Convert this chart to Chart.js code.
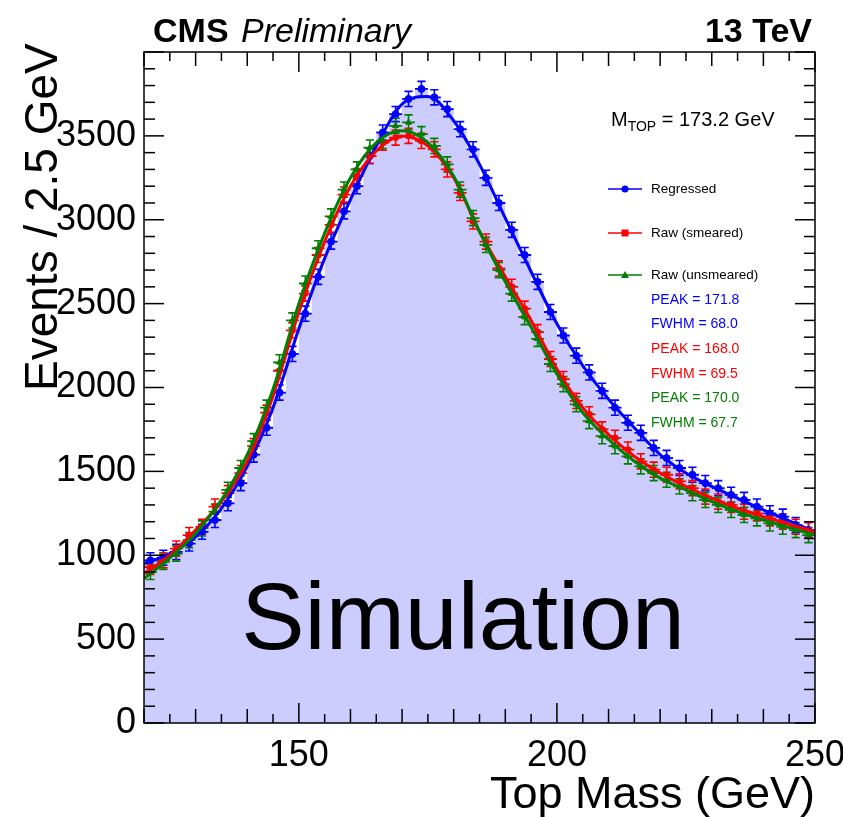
<!DOCTYPE html>
<html>
<head>
<meta charset="utf-8">
<script src="https://cdn.jsdelivr.net/npm/chart.js@4.4.0/dist/chart.umd.min.js"></script>
<style>
  html, body { margin: 0; padding: 0; background: #fff; }
  canvas { display: block; }
</style>
</head>
<body>
<canvas id="massChart" width="843" height="817"></canvas>
<script>
// 2.5 GeV bins between 120 and 250 GeV
const binCenters = [
  121.25, 123.75, 126.25, 128.75, 131.25, 133.75, 136.25, 138.75, 141.25, 143.75,
  146.25, 148.75, 151.25, 153.75, 156.25, 158.75, 161.25, 163.75, 166.25, 168.75,
  171.25, 173.75, 176.25, 178.75, 181.25, 183.75, 186.25, 188.75, 191.25, 193.75,
  196.25, 198.75, 201.25, 203.75, 206.25, 208.75, 211.25, 213.75, 216.25, 218.75,
  221.25, 223.75, 226.25, 228.75, 231.25, 233.75, 236.25, 238.75, 241.25, 243.75,
  246.25, 248.75
];

const regressed = [
  970, 985, 1020, 1070, 1140, 1210, 1310, 1430, 1600, 1760,
  1970, 2200, 2440, 2660, 2870, 3050, 3200, 3380, 3520, 3630,
  3720, 3780, 3730, 3660, 3540, 3420, 3250, 3100, 2940, 2790,
  2630, 2450, 2310, 2190, 2090, 1980, 1880, 1790, 1730, 1640,
  1580, 1520, 1480, 1430, 1400, 1360, 1330, 1290, 1250, 1230,
  1180, 1150
];

const rawSmeared = [
  930, 970, 1040, 1120, 1170, 1290, 1370, 1490, 1650, 1850,
  2100, 2340, 2560, 2790, 2970, 3150, 3260, 3380, 3460, 3490,
  3500, 3470, 3420, 3300, 3160, 2990, 2870, 2710, 2600, 2470,
  2330, 2170, 2050, 1920, 1840, 1750, 1700, 1630, 1560, 1510,
  1480, 1440, 1400, 1350, 1320, 1300, 1260, 1250, 1220, 1200,
  1170, 1150
];

const rawUnsmeared = [
  900, 960, 1010, 1090, 1160, 1260, 1390, 1520, 1680, 1880,
  2150, 2400, 2620, 2830, 3020, 3180, 3300, 3430, 3470, 3560,
  3580, 3510, 3440, 3330, 3180, 3010, 2850, 2700, 2560, 2420,
  2290, 2140, 2020, 1900, 1800, 1710, 1650, 1590, 1530, 1490,
  1450, 1410, 1370, 1330, 1300, 1270, 1240, 1220, 1190, 1170,
  1150, 1120
];

// fitted curves, sampled every 5 GeV
const fitMass = [
  120, 125, 130, 135, 140, 145, 150, 155, 160, 165, 170, 175, 180, 185,
  190, 195, 200, 205, 210, 215, 220, 225, 230, 235, 240, 245, 250
];
const fitRegressed = [
  950, 1010, 1110, 1280, 1530, 1880, 2350, 2770, 3120, 3440, 3690, 3735, 3590, 3330,
  3010, 2690, 2380, 2130, 1930, 1760, 1600, 1490, 1410, 1340, 1270, 1205, 1140
];
const fitSmeared = [
  890, 1000, 1150, 1320, 1560, 1950, 2450, 2870, 3200, 3410, 3500, 3440, 3250, 2930,
  2660, 2400, 2110, 1880, 1720, 1590, 1490, 1410, 1340, 1280, 1230, 1185, 1140
];
const fitUnsmeared = [
  860, 985, 1130, 1330, 1600, 1990, 2500, 2920, 3250, 3460, 3530, 3460, 3260, 2930,
  2630, 2360, 2080, 1850, 1690, 1560, 1460, 1390, 1320, 1260, 1210, 1165, 1120
];

const seriesNames = ['Regressed', 'Raw (smeared)', 'Raw (unsmeared)'];
const peakValues = [171.8, 168.0, 170.0];
const fwhmValues = [68.0, 69.5, 67.7];
const topMass = 173.2;

const BIN_W = 2.5;
const ERR = 45;
const COLORS = ['#0000ff', '#ff0000', '#007f00'];
const MARKERS = ['circle', 'rect', 'triangle'];
const FONT = "'Liberation Sans', Arial, Helvetica, sans-serif";

Chart.defaults.font.family = FONT;
Chart.defaults.color = '#000';

function stepOutline(vals) {
  const pts = [];
  vals.forEach((v, i) => {
    pts.push({ x: binCenters[i] - BIN_W / 2, y: v }, { x: binCenters[i] + BIN_W / 2, y: v });
  });
  return pts;
}

// horizontal bin-width bars, no vertical joins (ROOT E1 look)
function binBars(vals) {
  const pts = [];
  vals.forEach((v, i) => {
    const c = binCenters[i];
    pts.push({ x: c - BIN_W / 2, y: v }, { x: c + BIN_W / 2, y: v }, { x: c + BIN_W / 2, y: null });
  });
  return pts;
}

function errorBars(vals) {
  const pts = [];
  vals.forEach((v, i) => {
    const c = binCenters[i];
    pts.push({ x: c, y: v - ERR }, { x: c, y: v + ERR }, { x: c, y: null });
    pts.push({ x: c - 0.8, y: v + ERR }, { x: c + 0.8, y: v + ERR }, { x: c + 0.8, y: null });
    pts.push({ x: c - 0.8, y: v - ERR }, { x: c + 0.8, y: v - ERR }, { x: c + 0.8, y: null });
  });
  return pts;
}

const histVals = [regressed, rawSmeared, rawUnsmeared];
const fitVals = [fitRegressed, fitSmeared, fitUnsmeared];

const datasets = [{
  label: 'fill',
  data: stepOutline(regressed),
  fill: 'origin',
  backgroundColor: '#ccccff',
  borderWidth: 0,
  borderColor: 'rgba(0,0,0,0)',
  pointRadius: 0,
  order: 100
}];

histVals.forEach((vals, k) => {
  datasets.push({
    label: seriesNames[k] + ' bins',
    data: binBars(vals),
    borderColor: COLORS[k],
    borderWidth: 1.8,
    pointRadius: 0,
    fill: false,
    spanGaps: false,
    order: 30 - k
  });
  datasets.push({
    label: seriesNames[k] + ' errors',
    data: errorBars(vals),
    borderColor: COLORS[k],
    borderWidth: 1.6,
    pointRadius: 0,
    fill: false,
    spanGaps: false,
    order: 30 - k
  });
  datasets.push({
    label: seriesNames[k],
    data: vals.map((v, i) => ({ x: binCenters[i], y: v })),
    showLine: false,
    pointStyle: MARKERS[k],
    pointRadius: 3.5,
    pointBackgroundColor: COLORS[k],
    pointBorderColor: COLORS[k],
    pointBorderWidth: 1,
    order: 20 - k
  });
});

fitVals.forEach((vals, k) => {
  datasets.push({
    label: seriesNames[k] + ' fit',
    data: vals.map((v, i) => ({ x: fitMass[i], y: v })),
    borderColor: COLORS[k],
    borderWidth: 3,
    pointRadius: 0,
    fill: false,
    cubicInterpolationMode: 'monotone',
    order: 5 - k
  });
});

function seg(ctx, x1, y1, x2, y2) {
  ctx.beginPath();
  ctx.moveTo(x1, y1);
  ctx.lineTo(x2, y2);
  ctx.stroke();
}

function marker(ctx, style, x, y, color) {
  ctx.fillStyle = color;
  ctx.beginPath();
  if (style === 'circle') {
    ctx.arc(x, y, 3.5, 0, Math.PI * 2);
  } else if (style === 'rect') {
    ctx.rect(x - 3.5, y - 3.5, 7, 7);
  } else {
    ctx.moveTo(x, y - 4);
    ctx.lineTo(x + 4, y + 3);
    ctx.lineTo(x - 4, y + 3);
    ctx.closePath();
  }
  ctx.fill();
}

// frame with inward ticks, legend and captions
const rootFrame = {
  id: 'rootFrame',
  afterDatasetsDraw(chart) {
    const { ctx, chartArea: a, scales: { x, y } } = chart;
    ctx.save();
    ctx.strokeStyle = '#000';
    ctx.lineWidth = 1.5;
    ctx.strokeRect(a.left, a.top, a.right - a.left, a.bottom - a.top);

    for (let v = y.min; v <= y.max; v += 100) {
      const py = y.getPixelForValue(v);
      const len = v % 500 === 0 ? 20 : 11;
      seg(ctx, a.left, py, a.left + len, py);
      seg(ctx, a.right, py, a.right - len, py);
    }
    for (let m = x.min; m <= x.max; m += 5) {
      const px = x.getPixelForValue(m);
      const len = m % 50 === 0 ? 20 : (m % 10 === 0 ? 14 : 9);
      seg(ctx, px, a.bottom, px, a.bottom - len);
      seg(ctx, px, a.top, px, a.top + len);
    }
    ctx.restore();
  },
  afterDraw(chart) {
    const { ctx, chartArea: a } = chart;
    ctx.save();
    ctx.fillStyle = '#000';
    ctx.textBaseline = 'alphabetic';

    // header
    ctx.font = 'bold 34px ' + FONT;
    ctx.textAlign = 'left';
    ctx.fillText('CMS', 153, 42);
    ctx.font = 'italic 34px ' + FONT;
    ctx.fillText('Preliminary', 241, 42);
    ctx.font = 'bold 34px ' + FONT;
    ctx.textAlign = 'right';
    ctx.fillText('13 TeV', 812, 42);

    // axis titles
    ctx.font = '45px ' + FONT;
    ctx.textAlign = 'right';
    ctx.fillText('Top Mass (GeV)', a.right, 808);
    ctx.save();
    ctx.translate(57, 391);
    ctx.rotate(-Math.PI / 2);
    ctx.textAlign = 'left';
    ctx.font = '46px ' + FONT;
    ctx.fillText('Events / 2.5 GeV', 0, 0);
    ctx.restore();

    // top mass label
    ctx.textAlign = 'left';
    ctx.font = '20px ' + FONT;
    let tx = 611;
    ctx.fillText('M', tx, 126);
    tx += ctx.measureText('M').width;
    ctx.font = '14px ' + FONT;
    ctx.fillText('TOP', tx, 131);
    tx += ctx.measureText('TOP').width;
    ctx.font = '20px ' + FONT;
    ctx.fillText(' = ' + topMass.toFixed(1) + ' GeV', tx, 126);

    // legend
    const rows = [189, 233, 275];
    ctx.font = '13.5px ' + FONT;
    ctx.textBaseline = 'middle';
    rows.forEach((ry, k) => {
      ctx.strokeStyle = COLORS[k];
      ctx.lineWidth = 1.6;
      seg(ctx, 608, ry, 642, ry);
      marker(ctx, MARKERS[k], 625, ry, COLORS[k]);
      ctx.fillStyle = '#000';
      ctx.fillText(seriesNames[k], 651, ry);
    });

    ctx.font = '14px ' + FONT;
    peakValues.forEach((p, k) => {
      ctx.fillStyle = COLORS[k];
      ctx.fillText('PEAK = ' + p.toFixed(1), 651, 300 + 49.2 * k);
      ctx.fillText('FWHM = ' + fwhmValues[k].toFixed(1), 651, 324.6 + 49.2 * k);
    });

    // big caption
    ctx.fillStyle = '#000';
    ctx.textAlign = 'center';
    ctx.textBaseline = 'alphabetic';
    ctx.font = '95px ' + FONT;
    ctx.fillText('Simulation', 463, 649);
    ctx.restore();
  }
};

const ctx = document.getElementById('massChart').getContext('2d');
const massChart = new Chart(ctx, {
  type: 'line',
  data: { datasets: datasets },
  options: {
    responsive: false,
    animation: false,
    devicePixelRatio: 1,
    layout: { padding: { top: 52, right: 28, left: 0, bottom: 0 } },
    plugins: { legend: { display: false }, tooltip: { enabled: false } },
    elements: { line: { tension: 0 } },
    scales: {
      x: {
        type: 'linear',
        min: 120,
        max: 250,
        grid: { display: false, drawTicks: false },
        border: { display: false },
        ticks: {
          stepSize: 50,
          padding: 11,
          maxRotation: 0,
          autoSkip: false,
          font: { size: 36 },
          callback: v => (v % 50 === 0 ? String(v) : null)
        },
        afterFit: s => { s.height = 94; s.paddingLeft = 0; s.paddingRight = 0; }
      },
      y: {
        type: 'linear',
        min: 0,
        max: 4000,
        grid: { display: false, drawTicks: false },
        border: { display: false },
        ticks: {
          stepSize: 500,
          padding: 8,
          font: { size: 36 },
          callback: v => (v < 4000 ? String(v) : null)
        },
        afterFit: s => { s.width = 144; s.paddingTop = 0; s.paddingBottom = 0; }
      }
    }
  },
  plugins: [rootFrame]
});
</script>
</body>
</html>
